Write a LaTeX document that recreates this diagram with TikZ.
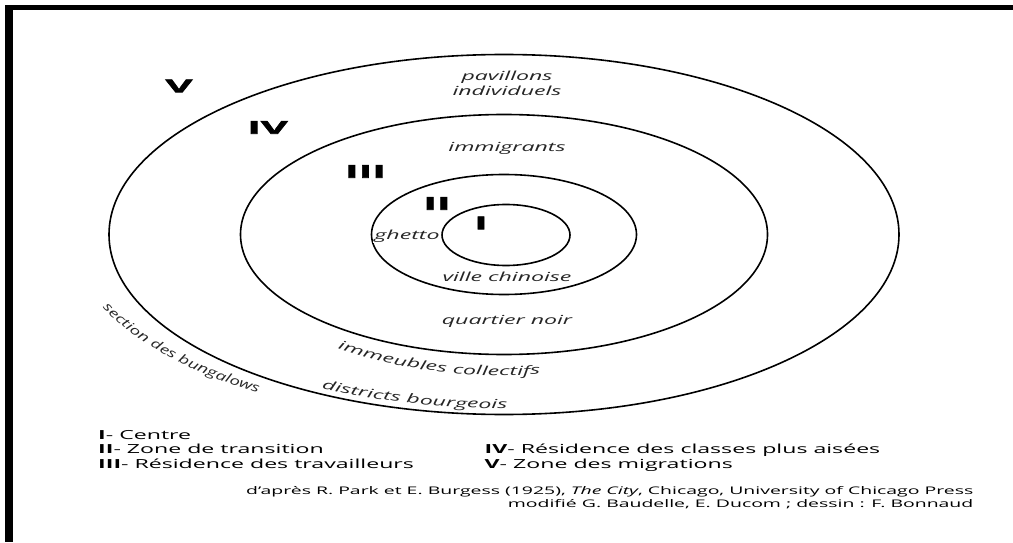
\documentclass[tikz,border=0pt]{standalone}
\usepackage{fontspec}
\setmainfont[FakeStretch=1.85]{Open Sans}
\newfontfamily\zonefont[FakeStretch=2.35,FakeBold=4]{Open Sans}
\newfontfamily\slantfont[FakeStretch=1.45]{Open Sans}
\usetikzlibrary{positioning, decorations.text}
\tikzstyle{ring} = [draw, line width=1.6pt]
\tikzstyle{zonenum} = [font=\zonefont\bfseries\fontsize{17.5}{17.5}\selectfont, inner sep=0pt]
\tikzstyle{zonelabel} = [font=\itshape\fontsize{12.5}{13}\selectfont, text=black!85, inner sep=0pt]
\tikzstyle{legtext} = [font=\fontsize{12.5}{14}\selectfont, anchor=west, inner sep=0pt,
    text height=9pt, text depth=3pt]
\tikzstyle{credit} = [font=\fontsize{10.5}{12}\selectfont, anchor=east, inner sep=0pt,
    text height=8pt, text depth=2.5pt]

\begin{document}
\begin{tikzpicture}[x=1pt, y=1pt]
        \useasboundingbox (0,0) rectangle (1013,542);
        \fill[white] (0,0) rectangle (1013,542);
        % frame
        \fill (5,0) rectangle (12.5,537);
        \fill (5,532) rectangle (1013,537);
        % rings
        \coordinate (ctr) at (504,307.5);
        \coordinate (core) at (506,307);
        \draw[ring] (ctr) ellipse [x radius=395, y radius=180];
        \draw[ring] (ctr) ellipse [x radius=263.5, y radius=120];
        \draw[ring] (ctr) ellipse [x radius=132.5, y radius=60];
        \node [zonelabel, fill=white, inner sep=1pt] (ghetto) at (407,306) {ghetto};
        \draw[ring] (core) ellipse [x radius=64, y radius=30.5];
        % zone numbers
        \node [zonenum] (zV) at (179,456) {V};
        \node [zonenum] (zIV) at (267.5,414.5) {IV};
        \node [zonenum] (zIII) at (365.5,370.5) {III};
        \node [zonenum] (zII) at (437,338.5) {II};
        \node [zonenum] (zI) at (481,319) {I};
        % zone labels
        \node [zonelabel] (pav) at (507,465) {pavillons};
        \node [zonelabel, below=2pt of pav] (indiv) {individuels};
        \node [zonelabel] (immig) at (507,394) {immigrants};
        \node [zonelabel] (chin) at (507,265.5) {ville chinoise};
        \node [zonelabel] (noir) at (507,221) {quartier noir};
        % curved labels
        \path [decorate, decoration={text along path, text align=center, text color=black!85,
            text={|\itshape\fontsize{12.5}{13}\selectfont|immeubles collectifs}}]
            (ctr) ++(225:284 and 141) arc [start angle=225, end angle=285, x radius=284, y radius=141];
        \path [decorate, decoration={text along path, text align=center, text color=black!85,
            text={|\itshape\fontsize{12.5}{13}\selectfont|districts bourgeois}}]
            (ctr) ++(225:389 and 174) arc [start angle=225, end angle=285, x radius=389, y radius=174];
        \path [decorate, decoration={text along path, text align=center, text color=black!85,
            text={|\slantfont\itshape\fontsize{12.5}{13}\selectfont|section des bungalows}}]
            (ctr) ++(185:433.6 and 192.7) arc [start angle=185, end angle=245, x radius=433.6, y radius=192.7];
        % legend
        \node [legtext] (lgI) at (98,106) {\textbf{I}- Centre};
        \node [legtext, below=2.5pt of lgI.south west, anchor=north west] (lgII) {\textbf{II}- Zone de transition};
        \node [legtext, below=2.5pt of lgII.south west, anchor=north west] (lgIII) {\textbf{III}- Résidence des travailleurs};
        \node [legtext] (lgIV) at (484.5,91.6) {\textbf{IV}- Résidence des classes plus aisées};
        \node [legtext, below=2.5pt of lgIV.south west, anchor=north west] (lgV) {\textbf{V}- Zone des migrations};
        \node [credit] (cr1) at (973.5,50) {d'après R. Park et E. Burgess (1925), \textit{The City}, Chicago, University of Chicago Press};
        \node [credit, below=2pt of cr1.south east, anchor=north east] (cr2) {modifié G. Baudelle, E. Ducom ; dessin : F. Bonnaud};
      \end{tikzpicture}
\end{document}
